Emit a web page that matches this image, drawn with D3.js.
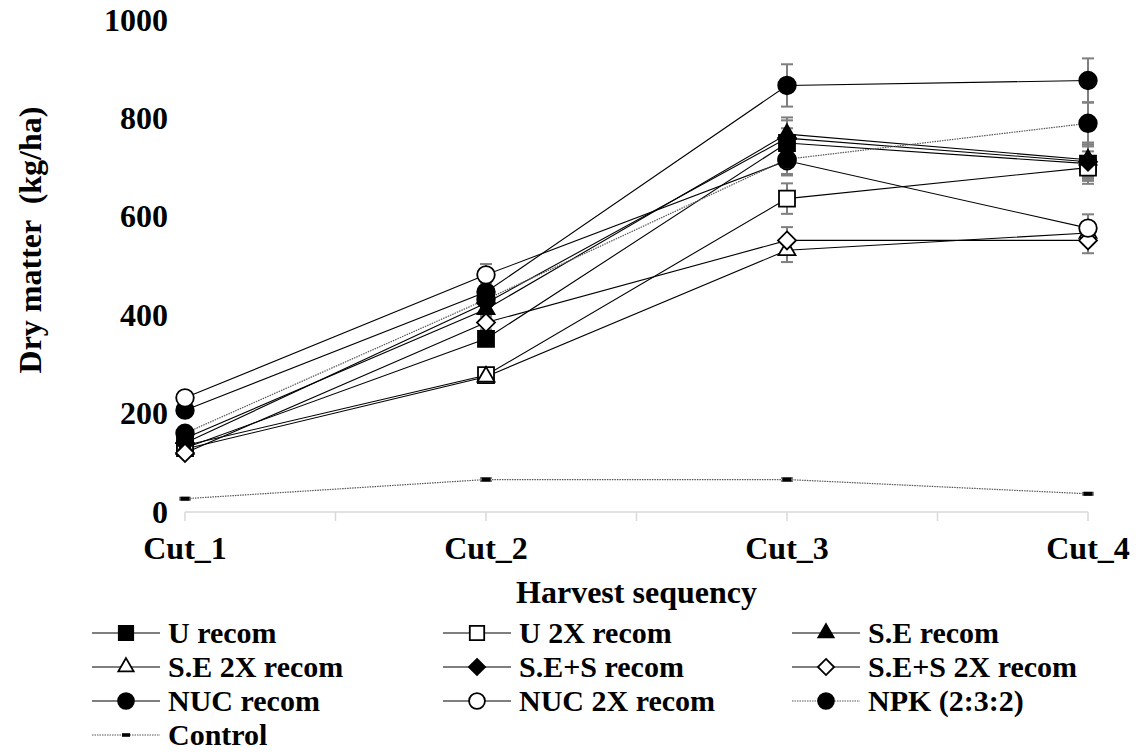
<!DOCTYPE html>
<html>
<head>
<meta charset="utf-8">
<script src="https://cdn.jsdelivr.net/npm/d3@7"></script>
<style>
  html, body { margin: 0; padding: 0; background: #fff; }
  svg { display: block; }
  text { font-family: "Liberation Serif", "Times New Roman", serif; font-weight: bold; fill: #000; }
</style>
</head>
<body>
<svg id="chart" width="1136" height="754"></svg>
<script>
// ---- data ----
const categories = ["Cut_1", "Cut_2", "Cut_3", "Cut_4"];
const yTicks = [0, 200, 400, 600, 800, 1000];

const seriesNames = ["U recom", "U 2X recom", "S.E recom", "S.E 2X recom", "S.E+S recom",
                     "S.E+S 2X recom", "NUC recom", "NUC 2X recom", "NPK (2:3:2)", "Control"];
const uRecom      = [130, 352, 750, 708];
const u2xRecom    = [135, 278, 637, 700];
const seRecom     = [150, 412, 768, 716];
const se2xRecom   = [128, 275, 532, 567];
const sesRecom    = [140, 425, 760, 712];
const ses2xRecom  = [120, 385, 552, 552];
const nucRecom    = [207, 447, 867, 877];
const nuc2xRecom  = [232, 482, 714, 577];
const npk         = [160, 432, 717, 790];
const control     = [27, 66, 66, 37];

const uRecomErr     = [8, 15, 30, 35];
const u2xRecomErr   = [8, 12, 31, 33];
const seRecomErr    = [8, 15, 34, 35];
const se2xRecomErr  = [6, 12, 24, 20];
const sesRecomErr   = [8, 15, 36, 35];
const ses2xRecomErr = [6, 14, 27, 26];
const nucRecomErr   = [8, 18, 43, 45];
const nuc2xRecomErr = [8, 22, 30, 28];
const npkErr        = [8, 18, 30, 43];
const controlErr    = [2, 3, 3, 2];

const markerTypes = ["square", "square", "triangle", "triangle", "diamond", "diamond", "circle", "circle", "circle", "dash"];
const markerFilled = [true, false, true, false, true, false, true, false, true, true];
const lineDotted = [false, false, false, false, false, false, false, false, true, true];

const values = [uRecom, u2xRecom, seRecom, se2xRecom, sesRecom, ses2xRecom, nucRecom, nuc2xRecom, npk, control];
const errors = [uRecomErr, u2xRecomErr, seRecomErr, se2xRecomErr, sesRecomErr, ses2xRecomErr, nucRecomErr, nuc2xRecomErr, npkErr, controlErr];

const series = seriesNames.map((name, i) => ({
  name, values: values[i], errors: errors[i],
  marker: markerTypes[i], filled: markerFilled[i], dotted: lineDotted[i]
}));

// ---- layout ----
const FS = 32;
const LFS = 30;
const svg = d3.select("#chart");
const x = d3.scalePoint().domain(categories).range([185, 1088]);
const y = d3.scaleLinear().domain([0, 1000]).range([512, 20]);

function markerPath(type, s) {
  const p = d3.path();
  if (type === "square") {
    const h = 8 * s; p.rect(-h, -h, 2 * h, 2 * h);
  } else if (type === "triangle") {
    const a = 17 * s, hh = a * Math.sqrt(3) / 2;
    p.moveTo(0, -hh * 2 / 3); p.lineTo(a / 2, hh / 3); p.lineTo(-a / 2, hh / 3); p.closePath();
  } else if (type === "diamond") {
    const h = 9 * s;
    p.moveTo(0, -h); p.lineTo(h, 0); p.lineTo(0, h); p.lineTo(-h, 0); p.closePath();
  } else if (type === "circle") {
    const r = 8.8 * s; p.moveTo(r, 0); p.arc(0, 0, r, 0, 2 * Math.PI);
  } else if (type === "dash") {
    p.rect(-4.5 * s, -2 * s, 9 * s, 4 * s);
  }
  return p.toString();
}

function drawMarker(g, d, s) {
  g.append("path")
    .attr("d", markerPath(d.marker, s))
    .attr("fill", d.filled ? "#000" : "#fff")
    .attr("stroke", d.marker === "dash" ? "none" : "#000")
    .attr("stroke-width", 1.8);
}

// x axis
const xAxisG = svg.append("g");
xAxisG.append("line").attr("x1", x("Cut_1")).attr("x2", x("Cut_4"))
  .attr("y1", y(0)).attr("y2", y(0)).attr("stroke", "#d9d9d9").attr("stroke-width", 1.5);
const step = x.step();
const tickPos = [];
categories.forEach((c, i) => { tickPos.push(x(c)); if (i < categories.length - 1) tickPos.push(x(c) + step / 2); });
xAxisG.selectAll("line.tick").data(tickPos).enter().append("line")
  .attr("x1", d => d).attr("x2", d => d).attr("y1", y(0)).attr("y2", y(0) + 9)
  .attr("stroke", "#d9d9d9").attr("stroke-width", 1.5);
xAxisG.selectAll("text.cat").data(categories).enter().append("text")
  .attr("x", d => x(d)).attr("y", 548).attr("dy", "0.33em").attr("text-anchor", "middle")
  .attr("font-size", FS).text(d => d);

// y tick labels
svg.selectAll("text.ytick").data(yTicks).enter().append("text")
  .attr("x", 168).attr("y", d => y(d)).attr("dy", "0.33em").attr("text-anchor", "end")
  .attr("font-size", FS).text(d => d);

// axis titles
svg.append("text").attr("x", (x("Cut_1") + x("Cut_4")) / 2).attr("y", 603).attr("text-anchor", "middle")
  .attr("font-size", FS).text("Harvest sequency");
svg.append("text").attr("transform", "translate(41,240) rotate(-90)").attr("text-anchor", "middle")
  .attr("font-size", FS).style("white-space", "pre").text("Dry matter  (kg/ha)");

// lines
const line = d3.line().x((d, i) => x(categories[i])).y(d => y(d));
const plot = svg.append("g");
series.forEach(s => {
  plot.append("path").datum(s.values).attr("d", line).attr("fill", "none")
    .attr("stroke", s.dotted ? "#555" : "#000")
    .attr("stroke-width", s.dotted ? 1.2 : 1.1)
    .attr("stroke-dasharray", s.dotted ? "1.5,1" : null);
});
// error bars
series.forEach(s => {
  s.values.forEach((v, i) => {
    const cx = x(categories[i]);
    const e = s.errors[i];
    const g = plot.append("g").attr("stroke", "#7f7f7f").attr("stroke-width", 2);
    g.append("line").attr("x1", cx).attr("x2", cx).attr("y1", y(v - e)).attr("y2", y(v + e));
    g.append("line").attr("x1", cx - 6).attr("x2", cx + 6).attr("y1", y(v - e)).attr("y2", y(v - e));
    g.append("line").attr("x1", cx - 6).attr("x2", cx + 6).attr("y1", y(v + e)).attr("y2", y(v + e));
  });
});
// markers
series.forEach(s => {
  s.values.forEach((v, i) => {
    const g = plot.append("g").attr("transform", `translate(${x(categories[i])},${y(v)})`);
    drawMarker(g, s, 1);
  });
});

// legend
const colX = [92, 443, 792];
const rowY = [633, 667, 701, 735];
series.forEach((s, i) => {
  const cx = colX[i % 3], cy = rowY[Math.floor(i / 3)];
  const g = svg.append("g").attr("transform", `translate(${cx},${cy})`);
  g.append("line").attr("x1", 0).attr("x2", 68).attr("y1", 0).attr("y2", 0)
    .attr("stroke", s.dotted ? "#555" : "#000").attr("stroke-width", s.dotted ? 1.2 : 1.1)
    .attr("stroke-dasharray", s.dotted ? "1.5,1" : null);
  const mg = g.append("g").attr("transform", "translate(34,0)");
  drawMarker(mg, s, 0.9);
  g.append("text").attr("x", 76).attr("y", 0).attr("dy", "0.33em").attr("font-size", LFS).text(s.name);
});
</script>
</body>
</html>
